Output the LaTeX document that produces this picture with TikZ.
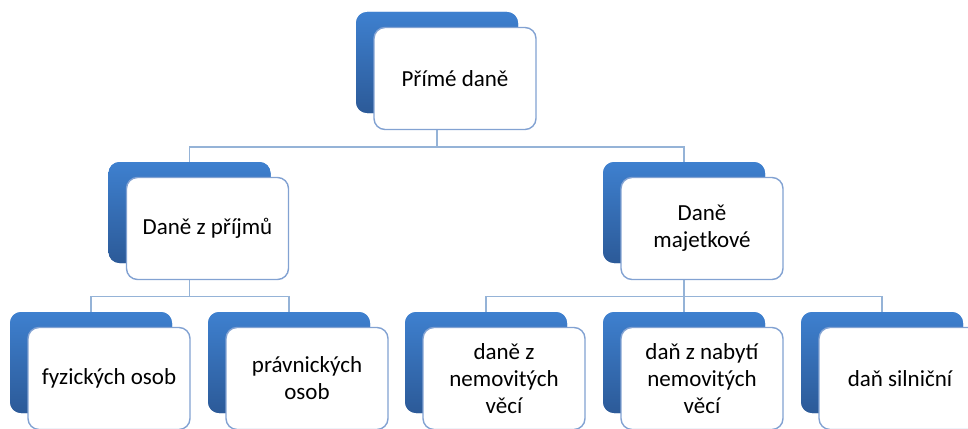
\documentclass[tikz,border=0pt]{standalone}
\usepackage{fontspec}
\setmainfont{Carlito}
\definecolor{conncol}{RGB}{149,179,215}
\definecolor{bordercol}{RGB}{130,162,210}
\definecolor{backtop}{RGB}{62,128,207}
\definecolor{backbot}{RGB}{44,90,152}
\tikzset{
  backbox/.style={minimum width=162pt, minimum height=101pt, rounded corners=11pt,
    top color=backtop, bottom color=backbot, draw=none, inner sep=0pt},
  frontbox/.style={minimum width=162pt, minimum height=102pt, rounded corners=11pt,
    fill=white, draw=bordercol, line width=1.4pt, align=center, inner sep=2pt,
    font=\fontsize{23}{27}\selectfont, text=black},
  conn/.style={draw=conncol, line width=1.4pt}
}
\begin{document}
\begin{tikzpicture}[x=1pt,y=1pt]
\useasboundingbox (0,0) rectangle (968,-428);
\clip (0,0) rectangle (968,-428);
% junction coordinates
\coordinate (j1) at (437,-147);
\coordinate (j2) at (189.5,-296.5);
\coordinate (j3) at (684,-296.5);
% back boxes (positions only, drawn later for layering)
\path (437,-62.5) node[backbox] (b0) {};
\path (189.5,-212.5) node[backbox] (b1) {};
\path (684,-212.5) node[backbox] (b2) {};
\path (91,-362.5) node[backbox] (b11) {};
\path (289,-362.5) node[backbox] (b12) {};
\path (486,-362.5) node[backbox] (b21) {};
\path (684,-362.5) node[backbox] (b22) {};
\path (882,-362.5) node[backbox] (b23) {};
% connectors
\draw[conn] (b0.south) -- (j1) -| (b1.north);
\draw[conn] (j1) -| (b2.north);
\draw[conn] (b1.south) -- (j2) -| (b11.north);
\draw[conn] (j2) -| (b12.north);
\draw[conn] (b2.south) -- (j3) -| (b21.north);
\draw[conn] (j3) -| (b22.north);
\draw[conn] (j3) -| (b23.north);
% boxes again on top
\node[backbox] at (b0) {};
\node[frontbox] (f0) at (455,-78.5) {Přímé daně};
\node[backbox] at (b1) {};
\node[frontbox] (f1) at (207.5,-228.5) {Daně z příjmů};
\node[backbox] at (b2) {};
\node[frontbox] (f2) at (702,-228.5) {Daně\\majetkové};
\node[backbox] at (b11) {};
\node[frontbox] (f11) at (109,-378.5) {fyzických osob};
\node[backbox] at (b12) {};
\node[frontbox] (f12) at (307,-378.5) {právnických\\osob};
\node[backbox] at (b21) {};
\node[frontbox] (f21) at (504,-378.5) {daně z\\nemovitých\\věcí};
\node[backbox] at (b22) {};
\node[frontbox] (f22) at (702,-378.5) {daň z nabytí\\nemovitých\\věcí};
\node[backbox] at (b23) {};
\node[frontbox] (f23) at (900,-378.5) {daň silniční};
\end{tikzpicture}
\end{document}
